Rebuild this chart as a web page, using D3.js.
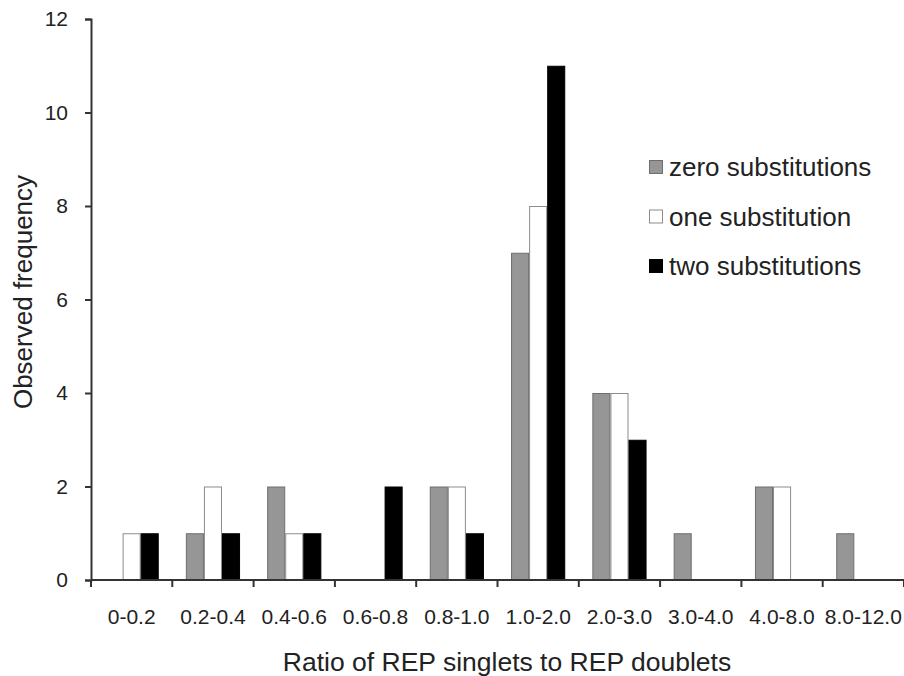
<!DOCTYPE html>
<html>
<head>
<meta charset="utf-8">
<script src="https://cdn.jsdelivr.net/npm/d3@7"></script>
<style>
  body { margin: 0; background: #fff; }
  text { font-family: "Liberation Sans", Arial, sans-serif; fill: #222; }
</style>
</head>
<body>
<script>
const categories = ["0-0.2", "0.2-0.4", "0.4-0.6", "0.6-0.8", "0.8-1.0",
  "1.0-2.0", "2.0-3.0", "3.0-4.0", "4.0-8.0", "8.0-12.0"];
const seriesNames = ["zero substitutions", "one substitution", "two substitutions"];
const zeroSubs = [0, 1, 2, 0, 2, 7, 4, 1, 2, 1];
const oneSubs = [1, 2, 1, 0, 2, 8, 4, 0, 2, 0];
const twoSubs = [1, 1, 1, 2, 1, 11, 3, 0, 0, 0];
const yTicks = [0, 2, 4, 6, 8, 10, 12];

const width = 904;
const height = 676;
const margin = { top: 19, right: 0, bottom: 96, left: 91 };

const FILL = ["#969696", "#ffffff", "#000000"];
const STROKE = ["#6e6e6e", "#8c8c8c", "#000000"];

const values = [zeroSubs, oneSubs, twoSubs];
const data = categories.map((c, i) => ({
  cat: c,
  vals: seriesNames.map((s, k) => ({ key: k, v: values[k][i] })),
}));

const svg = d3.select("body").append("svg")
  .attr("width", width)
  .attr("height", height);

const x0 = d3.scaleBand()
  .domain(categories)
  .range([margin.left, width - margin.right])
  .padding(0);

const x1 = d3.scaleBand()
  .domain([0, 1, 2])
  .range([0, x0.bandwidth()])
  .paddingInner(0)
  .paddingOuter(0.75);

const y = d3.scaleLinear()
  .domain([0, 12])
  .range([height - margin.bottom, margin.top]);

// bars
const g = svg.append("g")
  .selectAll("g")
  .data(data)
  .join("g")
  .attr("transform", (d) => `translate(${x0(d.cat)},0)`);

g.selectAll("rect")
  .data((d) => d.vals.filter((e) => e.v > 0))
  .join("rect")
  .attr("x", (d) => x1(d.key) + 0.5)
  .attr("y", (d) => y(d.v) + 0.5)
  .attr("width", x1.bandwidth() - 1)
  .attr("height", (d) => y(0) - y(d.v) - 0.5)
  .attr("fill", (d) => FILL[d.key])
  .attr("stroke", (d) => STROKE[d.key])
  .attr("stroke-width", 1);

// y axis
const yAxis = svg.append("g")
  .attr("transform", `translate(${margin.left},0)`)
  .call(d3.axisLeft(y).tickValues(yTicks).tickSize(6).tickSizeOuter(6).tickPadding(17));
yAxis.selectAll("text").attr("font-size", 21).style("font-family", "Liberation Sans, Arial, sans-serif");

// x axis with ticks at category boundaries
const xAxis = svg.append("g")
  .attr("transform", `translate(0,${y(0)})`)
  .call(d3.axisBottom(x0).tickSize(0));
xAxis.selectAll("text")
  .attr("font-size", 21)
  .attr("y", 44)
  .attr("dy", 0)
  .style("font-family", "Liberation Sans, Arial, sans-serif");
xAxis.selectAll(".boundary")
  .data(categories.map((c) => x0(c)).concat([x0.range()[1]]))
  .join("line")
  .attr("class", "boundary")
  .attr("x1", (d) => d)
  .attr("x2", (d) => d)
  .attr("y1", 0)
  .attr("y2", 7)
  .attr("stroke", "#333")
  .attr("stroke-width", 2);

svg.selectAll(".domain, .tick line")
  .attr("stroke", "#333")
  .attr("stroke-width", 2);
xAxis.select(".domain").attr("d", `M${margin.left},0H${width - margin.right}`);

// axis titles
svg.append("text")
  .attr("x", 507)
  .attr("y", 671)
  .attr("text-anchor", "middle")
  .attr("font-size", 26.5)
  .text("Ratio of REP singlets to REP doublets");

svg.append("text")
  .attr("transform", "translate(32,292) rotate(-90)")
  .attr("text-anchor", "middle")
  .attr("font-size", 26)
  .text("Observed frequency");

// legend
const legend = svg.append("g")
  .attr("transform", "translate(649,160)")
  .selectAll("g")
  .data(seriesNames)
  .join("g")
  .attr("transform", (d, i) => `translate(0,${i * 49.5})`);

legend.append("rect")
  .attr("x", 0.5)
  .attr("y", 0.5)
  .attr("width", 13)
  .attr("height", 13)
  .attr("fill", (d, i) => FILL[i])
  .attr("stroke", (d, i) => STROKE[i]);

legend.append("text")
  .attr("x", 20)
  .attr("y", 16)
  .attr("font-size", 26)
  .text((d) => d);
</script>
</body>
</html>
